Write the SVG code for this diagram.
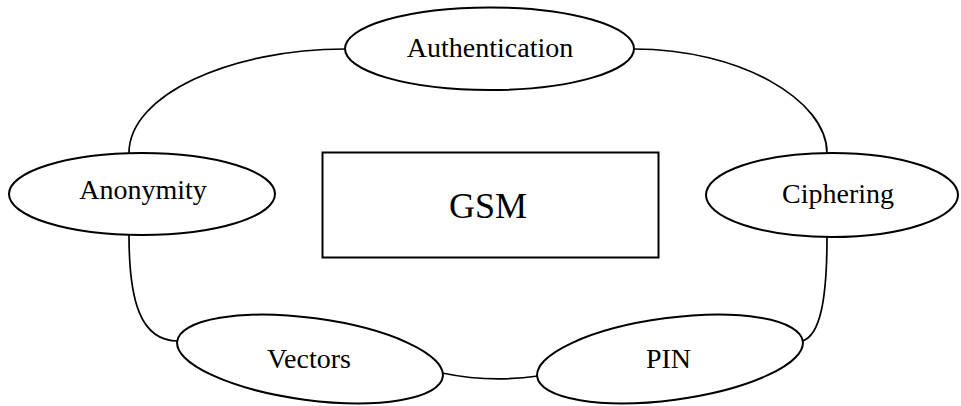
<svg xmlns="http://www.w3.org/2000/svg" width="961" height="406" viewBox="0 0 961 406">
<style>
.shape{fill:#fff;stroke:#000;stroke-width:2}
.conn{fill:none;stroke:#000;stroke-width:1.7}
.lbl{font-family:"Liberation Serif","Times New Roman",serif;font-size:28px;fill:#000;text-anchor:middle}
.big{font-size:36px}
</style>
<rect width="961" height="406" fill="#fff"/>
<g id="connectors">
<path class="conn" d="M345,49 C230,49 129,95 129,153"/>
<path class="conn" d="M634,49 C740,49 827,100 827,153"/>
<path class="conn" d="M129,235 C129,300 140,341 178,341"/>
<path class="conn" d="M442,373 Q490,383 538,376"/>
<path class="conn" d="M802,341 C820,336 827,300 827,237"/>
</g>
<g id="gsm">
<rect class="shape" x="322.5" y="152.5" width="336" height="105"/>
<text class="lbl big" x="488" y="218">GSM</text>
</g>
<g id="authentication">
<ellipse class="shape" cx="489.5" cy="48.7" rx="144.5" ry="41.3"/>
<text class="lbl" x="490" y="57">Authentication</text>
</g>
<g id="anonymity">
<ellipse class="shape" cx="142" cy="194" rx="133" ry="41"/>
<text class="lbl" x="143" y="199">Anonymity</text>
</g>
<g id="ciphering">
<ellipse class="shape" cx="832" cy="195" rx="126" ry="42"/>
<text class="lbl" x="838" y="203">Ciphering</text>
</g>
<g id="vectors">
<ellipse class="shape" cx="0" cy="0" rx="134" ry="41" transform="translate(310,359) rotate(7.6)"/>
<text class="lbl" x="309" y="368">Vectors</text>
</g>
<g id="pin">
<ellipse class="shape" cx="0" cy="0" rx="134" ry="41" transform="translate(670,359) rotate(-7.6)"/>
<text class="lbl" x="668.5" y="368">PIN</text>
</g>
</svg>
